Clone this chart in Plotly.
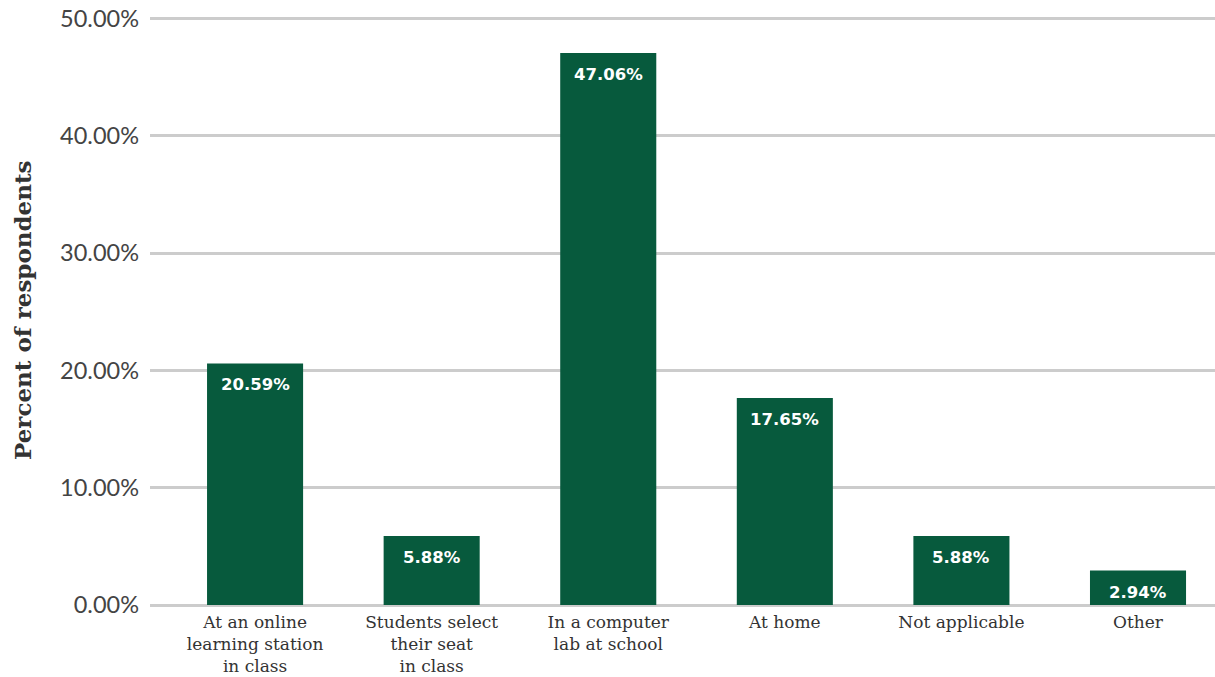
import plotly.graph_objects as go

categories = ["At an online<br>learning station<br>in class",
              "Students select<br>their seat<br>in class",
              "In a computer<br>lab at school",
              "At home",
              "Not applicable",
              "Other"]
values = [20.59, 5.88, 47.06, 17.65, 5.88, 2.94]
tick_vals = [0, 10, 20, 30, 40, 50]
tick_text = ["0.00%", "10.00%", "20.00%", "30.00%", "40.00%", "50.00%"]
y_title = "Percent of respondents"

fig = go.Figure(go.Bar(
    x=categories, y=values,
    marker=dict(color="#075A3D", line=dict(width=0)),
    hoverinfo="x+y",
))

for c, v in zip(categories, values):
    fig.add_annotation(
        x=c, y=v, text=f"{v:.2f}%", showarrow=False,
        yanchor="top", yshift=-10,
        font=dict(family="DejaVu Sans", size=16.5, color="white", weight="bold"),
    )

# y-axis title as an annotation so it can sit at the reference position
fig.add_annotation(
    xref="paper", yref="paper", x=0, y=0.5, xshift=-128,
    text=f"<b>{y_title}</b>", textangle=-90, showarrow=False,
    xanchor="center", yanchor="middle",
    font=dict(family="DejaVu Serif", size=23, color="#333333"),
)

fig.update_layout(
    width=1215, height=677,
    margin=dict(l=150, r=0, t=14.5, b=72, autoexpand=False),
    plot_bgcolor="white", paper_bgcolor="white",
    bargap=0.456,
    showlegend=False,
    font=dict(family="DejaVu Serif", color="#333333"),
)
fig.update_xaxes(
    range=[-0.595, 5.436],
    automargin=False,
    tickfont=dict(family="DejaVu Serif", size=17, color="#333333"),
    showline=False, ticks="", ticklabelstandoff=5,
)
fig.update_yaxes(
    range=[0, 50.3], tickvals=tick_vals, ticktext=tick_text,
    automargin=False,
    tickfont=dict(family="Lato", size=23.5, color="#444444"),
    showgrid=True, gridcolor="#CCCCCC", gridwidth=2.5,
    zeroline=True, zerolinecolor="#CCCCCC", zerolinewidth=2.5,
    ticks="", ticklabelstandoff=10,
)

fig.write_html(
    "out.html",
    config={"displayModeBar": False},
    post_script="document.body.style.margin='0';document.body.style.overflow='hidden';",
)
